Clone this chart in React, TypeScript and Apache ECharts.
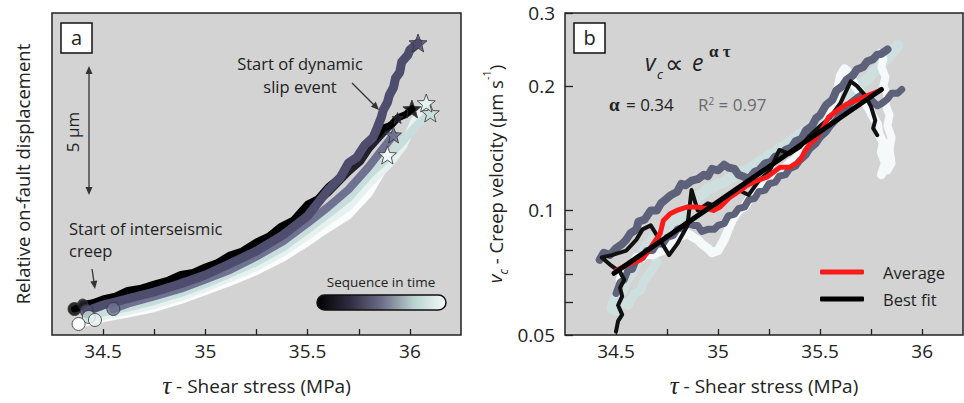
import React, { useEffect, useRef } from 'react';
import * as echarts from 'echarts';

const FONT = '"Open Sans", "Noto Sans", sans-serif';
const SERIF = '"Liberation Serif", "DejaVu Serif", serif';

// ---------- Panel a: relative on-fault displacement (µm, arbitrary origin) vs shear stress ----------
const seqColors = ['#000000', '#24212f', '#4f4d6d', '#6f7291', '#c8dedc', '#e7f2f0', '#fbfdfd'];
const seqWidths = [7, 7, 9, 8, 8, 8, 8];
const circleSizes = [13, 10, 13, 13, 13, 13, 13];
const starSizes = [18, 11, 18, 16, 18, 18, 18];

const seqA1 = [[34.36,1.04],[34.42,1.2],[34.5,1.44],[34.56,1.55],[34.62,1.78],[34.68,1.86],[34.75,2.04],[34.82,2.2],[34.88,2.42],[34.94,2.5],[35.0,2.72],[35.06,2.9],[35.12,3.2],[35.18,3.36],[35.25,3.72],[35.31,3.95],[35.37,4.35],[35.43,4.6],[35.5,5.24],[35.55,5.45],[35.6,5.92],[35.65,6.25],[35.7,6.8],[35.75,7.15],[35.8,7.72],[35.84,7.95],[35.87,8.28],[35.91,8.4],[35.94,8.68],[35.98,8.82],[36.01,9.04]];
const seqA2 = [[34.4,1.24],[34.5,1.32],[34.6,1.55],[34.68,1.66],[34.75,1.88],[34.87,2.18],[35.0,2.56],[35.06,2.7],[35.12,3.0],[35.25,3.56],[35.32,3.78],[35.38,4.15],[35.5,5.0],[35.6,5.68],[35.7,6.52],[35.76,6.95],[35.8,7.44],[35.87,8.08],[35.94,8.68]];
const seqA3 = [[34.42,0.96],[34.5,1.2],[34.62,1.45],[34.75,1.72],[34.88,2.05],[35.0,2.4],[35.12,2.85],[35.25,3.36],[35.38,4.0],[35.5,4.76],[35.6,5.8],[35.66,6.3],[35.7,6.88],[35.74,7.1],[35.78,7.6],[35.82,7.9],[35.84,8.28],[35.86,8.7],[35.87,9.0],[35.89,9.3],[35.9,9.6],[35.92,9.9],[35.93,10.28],[35.95,10.5],[35.96,10.92],[35.99,11.2],[36.0,11.4],[36.04,11.68]];
const seqA4 = [[34.55,1.04],[34.62,1.25],[34.75,1.54],[34.88,1.85],[35.0,2.22],[35.12,2.6],[35.25,3.14],[35.38,3.75],[35.5,4.48],[35.6,5.12],[35.7,5.82],[35.8,6.74],[35.87,7.48],[35.92,8.0]];
const seqA5 = [[34.43,0.72],[34.5,0.9],[34.62,1.1],[34.75,1.36],[34.88,1.68],[35.0,2.04],[35.12,2.45],[35.25,2.92],[35.38,3.5],[35.5,4.22],[35.6,4.84],[35.7,5.48],[35.8,6.4],[35.9,7.16],[35.97,7.8],[36.03,8.36],[36.1,8.88]];
const seqA6 = [[34.46,0.6],[34.5,0.76],[34.62,0.96],[34.75,1.2],[34.88,1.52],[35.0,1.88],[35.12,2.28],[35.25,2.72],[35.38,3.3],[35.5,3.96],[35.6,4.56],[35.7,5.12],[35.8,6.04],[35.9,6.84],[35.97,7.6],[36.02,8.52],[36.08,9.28]];
const seqA7 = [[34.38,0.44],[34.5,0.68],[34.62,0.86],[34.75,1.08],[34.88,1.4],[35.0,1.76],[35.12,2.12],[35.25,2.56],[35.38,3.1],[35.5,3.72],[35.6,4.28],[35.7,4.8],[35.8,5.68],[35.86,6.52],[35.89,7.2]];
const seqsA = [seqA1, seqA2, seqA3, seqA4, seqA5, seqA6, seqA7];
const drawOrderA = [6, 5, 4, 3, 1, 0, 2];

// ---------- Panel b: creep velocity (µm/s, log) vs shear stress ----------
const bBlack = [[34.5,0.051],[34.51,0.054],[34.53,0.056],[34.51,0.059],[34.53,0.062],[34.52,0.065],[34.54,0.068],[34.52,0.071],[34.47,0.074],[34.43,0.077],[34.48,0.078],[34.55,0.08],[34.6,0.085],[34.63,0.09],[34.67,0.092],[34.72,0.084],[34.76,0.078],[34.8,0.083],[34.85,0.092],[34.87,0.112],[34.9,0.1],[34.95,0.104],[35.0,0.102],[35.05,0.108],[35.1,0.112],[35.15,0.109],[35.2,0.118],[35.25,0.124],[35.3,0.14],[35.35,0.137],[35.4,0.142],[35.45,0.152],[35.5,0.16],[35.55,0.168],[35.6,0.182],[35.65,0.205],[35.68,0.2],[35.72,0.19],[35.75,0.178],[35.77,0.165],[35.76,0.158],[35.78,0.152]];
const bSlateA = [[34.42,0.076],[34.44,0.079],[34.47,0.078],[34.5,0.081],[34.53,0.083],[34.55,0.085],[34.57,0.088],[34.6,0.09],[34.61,0.094],[34.64,0.095],[34.67,0.1],[34.7,0.1],[34.72,0.104],[34.74,0.106],[34.77,0.109],[34.8,0.111],[34.82,0.116],[34.84,0.115],[34.87,0.118],[34.9,0.119],[34.93,0.122],[34.95,0.121],[34.97,0.126],[35.0,0.125],[35.03,0.129],[35.05,0.127],[35.08,0.126],[35.1,0.122],[35.12,0.121],[35.15,0.119],[35.18,0.124],[35.2,0.125],[35.23,0.13],[35.26,0.131],[35.28,0.135],[35.3,0.135],[35.33,0.14],[35.36,0.142],[35.38,0.147],[35.41,0.149],[35.43,0.156],[35.46,0.16],[35.48,0.167],[35.5,0.17],[35.53,0.18],[35.56,0.185],[35.58,0.195],[35.61,0.2],[35.63,0.207],[35.66,0.212],[35.68,0.219],[35.71,0.222],[35.73,0.229],[35.76,0.232],[35.78,0.238],[35.8,0.239],[35.83,0.245]];
const bSlateB = [[34.5,0.063],[34.52,0.067],[34.54,0.068],[34.56,0.072],[34.58,0.072],[34.6,0.076],[34.63,0.077],[34.65,0.08],[34.68,0.08],[34.7,0.083],[34.73,0.083],[34.75,0.086],[34.78,0.087],[34.8,0.09],[34.83,0.091],[34.85,0.093],[34.88,0.092],[34.9,0.092],[34.92,0.089],[34.95,0.09],[34.98,0.09],[35.0,0.092],[35.03,0.093],[35.05,0.097],[35.08,0.098],[35.1,0.101],[35.13,0.102],[35.15,0.106],[35.18,0.107],[35.2,0.111],[35.23,0.112],[35.25,0.116],[35.28,0.117],[35.3,0.121],[35.33,0.122],[35.35,0.126],[35.38,0.128],[35.4,0.132],[35.43,0.136],[35.45,0.141],[35.48,0.145],[35.5,0.15],[35.53,0.155],[35.55,0.16],[35.58,0.166],[35.6,0.171],[35.63,0.177],[35.65,0.182],[35.68,0.187],[35.7,0.19],[35.73,0.186],[35.75,0.185],[35.78,0.179],[35.8,0.181],[35.83,0.186],[35.85,0.192],[35.88,0.192],[35.9,0.196]];
const bCyan = [[34.48,0.058],[34.5,0.062],[34.53,0.064],[34.55,0.068],[34.58,0.071],[34.6,0.075],[34.63,0.078],[34.65,0.082],[34.68,0.085],[34.7,0.088],[34.73,0.089],[34.75,0.091],[34.78,0.093],[34.8,0.096],[34.83,0.098],[34.85,0.101],[34.88,0.105],[34.9,0.108],[34.93,0.11],[34.95,0.113],[34.98,0.114],[35.0,0.116],[35.03,0.117],[35.05,0.119],[35.08,0.121],[35.1,0.124],[35.13,0.124],[35.15,0.126],[35.18,0.128],[35.2,0.131],[35.23,0.133],[35.25,0.136],[35.28,0.138],[35.3,0.141],[35.33,0.143],[35.35,0.146],[35.38,0.149],[35.4,0.153],[35.43,0.156],[35.45,0.159],[35.48,0.162],[35.5,0.166],[35.53,0.168],[35.55,0.171],[35.58,0.174],[35.6,0.179],[35.63,0.185],[35.65,0.191],[35.68,0.197],[35.7,0.202],[35.73,0.207],[35.75,0.213],[35.78,0.219],[35.8,0.226],[35.83,0.233],[35.85,0.24],[35.88,0.25]];
const bCyan2 = [[34.5,0.057],[34.53,0.06],[34.56,0.059],[34.59,0.063],[34.62,0.064],[34.64,0.068],[34.67,0.071],[34.7,0.075]];
const bWhite = [[34.52,0.068],[34.55,0.073],[34.58,0.074],[34.6,0.077],[34.63,0.077],[34.65,0.079],[34.68,0.078],[34.7,0.079],[34.73,0.08],[34.75,0.082],[34.78,0.083],[34.8,0.086],[34.83,0.087],[34.85,0.088],[34.88,0.086],[34.9,0.085],[34.92,0.083],[34.95,0.081],[34.97,0.079],[35.0,0.08],[35.03,0.085],[35.05,0.09],[35.07,0.095],[35.1,0.1],[35.13,0.102],[35.15,0.106],[35.18,0.108],[35.2,0.112],[35.23,0.115],[35.25,0.119],[35.28,0.121],[35.3,0.125],[35.33,0.127],[35.35,0.13],[35.38,0.133],[35.4,0.137],[35.43,0.14],[35.45,0.144],[35.48,0.148],[35.5,0.154],[35.53,0.162],[35.55,0.172],[35.57,0.182],[35.58,0.192],[35.59,0.2],[35.6,0.212],[35.62,0.22],[35.64,0.215],[35.66,0.205],[35.67,0.2],[35.7,0.192],[35.72,0.182],[35.74,0.176],[35.76,0.168],[35.78,0.162],[35.79,0.152],[35.81,0.146],[35.8,0.138],[35.82,0.13],[35.8,0.122]];
const bWhite2 = [[35.79,0.24],[35.81,0.232],[35.8,0.222],[35.82,0.21],[35.81,0.2],[35.83,0.19],[35.82,0.18],[35.84,0.17],[35.83,0.16],[35.85,0.15],[35.84,0.14],[35.85,0.13],[35.83,0.125]];
const bAverage = [[34.503,0.0717],[34.569,0.0744],[34.618,0.0758],[34.65,0.0787],[34.683,0.0832],[34.716,0.0879],[34.732,0.0946],[34.765,0.0982],[34.798,0.1],[34.847,0.1019],[34.896,0.1019],[34.945,0.101],[34.977,0.1],[35.01,0.1019],[35.059,0.1077],[35.108,0.1118],[35.141,0.1149],[35.19,0.1181],[35.239,0.1203],[35.271,0.1237],[35.304,0.1272],[35.353,0.1272],[35.402,0.132],[35.426,0.1396],[35.451,0.1449],[35.484,0.1503],[35.516,0.1589],[35.541,0.1679],[35.582,0.1742],[35.631,0.1808],[35.712,0.1876],[35.794,0.1947]];
const bFit = [[34.49,0.0705],[35.8,0.196]];
const bCloud = [
  { data: bCyan, color: '#cddfdf', width: 11 },
  { data: bCyan2, color: '#cddfdf', width: 9 },
  { data: bWhite, color: '#f6f9f9', width: 9 },
  { data: bWhite2, color: '#f6f9f9', width: 8 },
  { data: bSlateB, color: '#5d6179', width: 7 },
  { data: bSlateA, color: '#5d6179', width: 8 },
  { data: bBlack, color: '#111111', width: 4 },
];

// ---------- Axes ----------
const tauTicks = [34.5, 34.75, 35, 35.25, 35.5, 35.75, 36];
const tauLabels = [34.5, 35, 35.5, 36];
const vTicks = [0.05, 0.06, 0.07, 0.08, 0.09, 0.1, 0.2, 0.3];
const vLabels = [0.05, 0.1, 0.2, 0.3];
const legendNames = ['Average', 'Best fit'];

const starPath = 'path://M12,1 L14.9,8.6 L23,8.9 L16.7,14 L18.9,21.9 L12,17.4 L5.1,21.9 L7.3,14 L1,8.9 L9.1,8.6 Z';

function arrowHead(tx: number, ty: number, fx: number, fy: number, len = 8, hw = 3.5) {
  const dx = tx - fx, dy = ty - fy;
  const d = Math.hypot(dx, dy);
  const ux = dx / d, uy = dy / d;
  const bx = tx - ux * len, by = ty - uy * len;
  return [[tx, ty], [bx - uy * hw, by + ux * hw], [bx + uy * hw, by - ux * hw]];
}

const tauName = {
  name: '{t|τ} - Shear stress (MPa)',
  nameLocation: 'middle' as const,
  nameGap: 38,
  nameTextStyle: {
    fontFamily: FONT, fontSize: 19, color: '#222',
    rich: { t: { fontFamily: SERIF, fontStyle: 'italic', fontSize: 25, color: '#222' } },
  },
};

function buildOption(): any {
  const seriesA: any[] = drawOrderA.map((i) => ({
    type: 'line', xAxisIndex: 0, yAxisIndex: 0, data: seqsA[i], showSymbol: false, silent: true,
    lineStyle: { color: seqColors[i], width: seqWidths[i], cap: 'round', join: 'round' },
    z: 2,
  }));
  seriesA.push({
    type: 'scatter', xAxisIndex: 0, yAxisIndex: 0, symbol: 'circle', z: 4,
    data: seqsA.map((s, i) => ({ value: s[0], symbolSize: circleSizes[i], itemStyle: { color: seqColors[i], borderColor: '#333', borderWidth: 1 } })),
  });
  seriesA.push({
    type: 'scatter', xAxisIndex: 0, yAxisIndex: 0, symbol: starPath, z: 5,
    data: seqsA.map((s, i) => ({ value: s[s.length - 1], symbolSize: starSizes[i], itemStyle: { color: seqColors[i], borderColor: '#333', borderWidth: 1 } })),
  });

  const seriesB: any[] = bCloud.map((c) => ({
    type: 'line', xAxisIndex: 1, yAxisIndex: 1, data: c.data, showSymbol: false, silent: true,
    lineStyle: { color: c.color, width: c.width, join: 'round', cap: 'round' }, z: 2,
  }));
  seriesB.push({
    name: legendNames[0], type: 'line', xAxisIndex: 1, yAxisIndex: 1, data: bAverage, showSymbol: false,
    itemStyle: { color: '#ff1a1a' }, lineStyle: { color: '#ff1a1a', width: 5, join: 'round', cap: 'round' }, z: 3,
  });
  seriesB.push({
    name: legendNames[1], type: 'line', xAxisIndex: 1, yAxisIndex: 1, data: bFit, showSymbol: false,
    itemStyle: { color: '#000' }, lineStyle: { color: '#000', width: 5, cap: 'round' }, z: 4,
  });

  const txt = (text: string, x: number, y: number, extra: any = {}) => ({
    type: 'text', x, y, z: 10,
    style: { text, fontFamily: FONT, fontSize: 16.5, fill: '#222', align: 'left', verticalAlign: 'middle', ...extra },
  });
  const line = (x1: number, y1: number, x2: number, y2: number) => ({
    type: 'line', z: 10, shape: { x1, y1, x2, y2 }, style: { stroke: '#333', lineWidth: 1.3 },
  });
  const head = (tx: number, ty: number, fx: number, fy: number) => ({
    type: 'polygon', z: 10, shape: { points: arrowHead(tx, ty, fx, fy) }, style: { fill: '#333' },
  });

  const graphic: any[] = [
    { type: 'rect', z: 10, shape: { x: 61, y: 23, width: 31, height: 30 }, style: { fill: '#fff', stroke: '#111', lineWidth: 1.5 } },
    txt('a', 76.5, 37, { align: 'center', fontSize: 20 }),
    { type: 'rect', z: 10, shape: { x: 574, y: 23, width: 31, height: 30 }, style: { fill: '#fff', stroke: '#111', lineWidth: 1.5 } },
    txt('b', 589.5, 37, { align: 'center', fontSize: 20 }),
    // 5 µm scale
    line(89, 72, 89, 189), head(89, 66, 89, 100), head(89, 195, 89, 150),
    { type: 'text', z: 10, x: 72, y: 132, rotation: Math.PI / 2,
      style: { text: '5 μm', fontFamily: FONT, fontSize: 17, fill: '#222', align: 'center', verticalAlign: 'middle' } },
    // annotations
    txt('Start of dynamic', 300, 63, { align: 'center' }),
    txt('slip event', 300, 86, { align: 'center' }),
    line(352, 83, 374, 105), head(379, 110, 352, 83),
    txt('Start of interseismic', 69, 228),
    txt('creep', 69, 250),
    line(92, 269, 94, 282), head(95, 289, 92, 269),
    // colour bar
    txt('Sequence in time', 381, 282, { align: 'center', fontSize: 13.5 }),
    { type: 'rect', z: 10, shape: { x: 317, y: 295, width: 129, height: 15, r: 7.5 },
      style: {
        fill: new echarts.graphic.LinearGradient(0, 0, 1, 0, [
          { offset: 0, color: '#000000' }, { offset: 0.25, color: '#2e2b3e' }, { offset: 0.5, color: '#6c6d88' },
          { offset: 0.75, color: '#b9d2ce' }, { offset: 1, color: '#f4faf9' },
        ]),
        stroke: '#111', lineWidth: 1.5,
      } },
    // equation
    txt('v', 645, 62, { fontSize: 23, fontStyle: 'italic' }),
    txt('c', 657, 74, { fontSize: 13, fontStyle: 'italic' }),
    txt('∝', 665, 63, { fontSize: 26 }),
    txt('e', 692, 62, { fontSize: 23, fontStyle: 'italic' }),
    txt('α τ', 709, 51, { fontSize: 17, fontWeight: 'bold', fontFamily: SERIF }),
    txt('α', 609, 104, { fontSize: 19, fontWeight: 'bold', fontFamily: SERIF }),
    txt('= 0.34', 626, 104, { fontSize: 17 }),
    { type: 'text', z: 10, x: 698, y: 104,
      style: { text: 'R{s|2} = 0.97', fontFamily: FONT, fontSize: 17, fill: '#6a6a6a', verticalAlign: 'middle',
        rich: { s: { fontSize: 10, fill: '#6a6a6a', fontFamily: FONT, verticalAlign: 'top', lineHeight: 10 } } } },
  ];

  return {
    animation: false,
    backgroundColor: '#ffffff',
    textStyle: { fontFamily: FONT },
    grid: [
      { left: 52, top: 13, width: 409, height: 322, show: true, backgroundColor: '#d3d3d3', borderColor: '#222', borderWidth: 1.5 },
      { left: 565, top: 13, width: 398, height: 322, show: true, backgroundColor: '#d3d3d3', borderColor: '#222', borderWidth: 1.5 },
    ],
    xAxis: [
      {
        type: 'value', gridIndex: 0, min: 34.25, max: 36.25, ...tauName,
        axisLine: { show: false }, splitLine: { show: false },
        axisTick: { show: true, inside: true, length: 6, customValues: tauTicks, lineStyle: { color: '#222', width: 1.3 } },
        axisLabel: { customValues: tauLabels, margin: 6, fontSize: 19, color: '#222', fontFamily: FONT, formatter: (v: number) => String(v) },
      },
      {
        type: 'value', gridIndex: 1, min: 34.25, max: 36.2, ...tauName,
        axisLine: { show: false }, splitLine: { show: false },
        axisTick: { show: true, inside: true, length: 6, customValues: tauTicks, lineStyle: { color: '#222', width: 1.3 } },
        axisLabel: { customValues: tauLabels, margin: 6, fontSize: 19, color: '#222', fontFamily: FONT, formatter: (v: number) => String(v) },
      },
    ],
    yAxis: [
      {
        type: 'value', gridIndex: 0, min: 0, max: 12.88,
        name: 'Relative on-fault displacement', nameLocation: 'middle', nameGap: 20,
        nameTextStyle: { fontFamily: FONT, fontSize: 18.5, color: '#222' },
        axisLine: { show: false }, axisTick: { show: false }, axisLabel: { show: false }, splitLine: { show: false },
      },
      {
        type: 'log', logBase: 10, gridIndex: 1, min: 0.05, max: 0.3,
        name: '{v|v}{c|c}{n| - Creep velocity (μm s}{s|-1}{n|)}', nameLocation: 'middle', nameGap: 56,
        nameTextStyle: {
          fontFamily: FONT, fontSize: 18.5, color: '#222',
          rich: {
            v: { fontFamily: FONT, fontSize: 19, fontStyle: 'italic', color: '#222', lineHeight: 28 },
            c: { fontFamily: FONT, fontSize: 12, fontStyle: 'italic', color: '#222', lineHeight: 12, verticalAlign: 'bottom' },
            n: { fontFamily: FONT, fontSize: 18.5, color: '#222', lineHeight: 28 },
            s: { fontFamily: FONT, fontSize: 11, color: '#222', lineHeight: 12, verticalAlign: 'top' },
          },
        },
        axisLine: { show: false }, splitLine: { show: false },
        axisTick: { show: true, inside: true, length: 8, customValues: vTicks, lineStyle: { color: '#222', width: 1.3 } },
        axisLabel: { customValues: vLabels, margin: 10, fontSize: 19, color: '#222', fontFamily: FONT,
          formatter: (v: number) => String(Math.round(v * 1000) / 1000) },
      },
    ],
    legend: {
      data: legendNames.map((n) => ({ name: n, icon: 'roundRect' })),
      orient: 'vertical', left: 815, top: 257, itemWidth: 44, itemHeight: 5, itemGap: 7,
      textStyle: { fontFamily: FONT, fontSize: 16.5, color: '#222', padding: [0, 0, 0, 14], lineHeight: 20 },
      selectedMode: false,
    },
    series: [...seriesA, ...seriesB],
    graphic,
  };
}

export default function App() {
  const ref = useRef<HTMLDivElement>(null);
  useEffect(() => {
    if (!ref.current) return;
    const chart = echarts.init(ref.current, null, { renderer: 'svg' });
    chart.setOption(buildOption());
    return () => chart.dispose();
  }, []);
  return <div ref={ref} style={{ position: 'fixed', left: 0, top: 0, width: 964, height: 403, background: '#fff' }} />;
}
